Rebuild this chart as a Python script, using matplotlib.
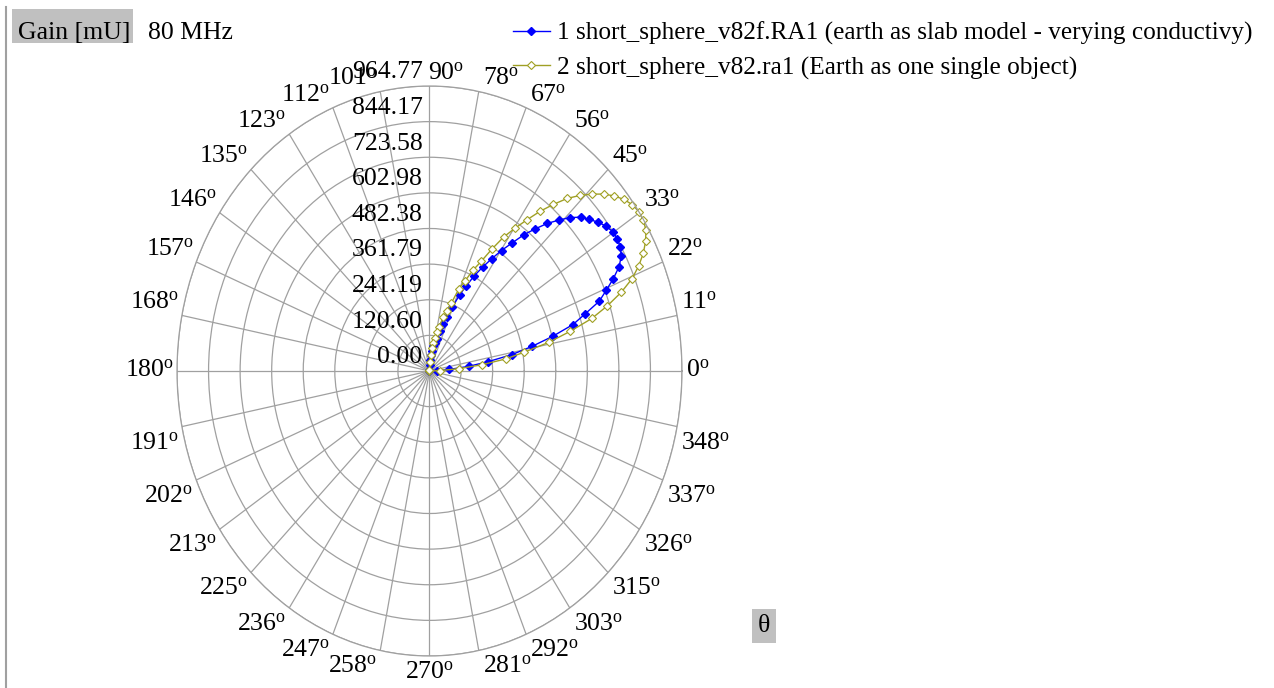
import numpy as np
import matplotlib
matplotlib.use("Agg")
import matplotlib.pyplot as plt
from matplotlib.patches import Rectangle
from matplotlib.lines import Line2D

plt.rcParams['font.family'] = ['Liberation Serif', 'DejaVu Serif']
plt.rcParams['mathtext.fontset'] = 'custom'
plt.rcParams['mathtext.rm'] = 'Liberation Serif'
plt.rcParams['mathtext.it'] = 'Liberation Serif:italic'

# elevation angle theta [deg]
theta_deg = [0, 2, 4, 6, 8, 10, 12, 14, 16, 18, 20, 22, 24, 26, 28, 30,
             32, 34, 36, 38, 40, 42, 44, 46, 48, 50, 52, 54, 56, 58, 60,
             62, 64, 66, 68, 70, 72, 74, 76, 78, 80, 82, 84, 86, 88, 90]

# gain [mU], earth as slab model
gain_slab = [0, 30, 75, 150, 225, 320, 400, 485, 570, 625, 690, 728, 769, 806, 830, 841,
             846, 844, 834, 818, 798, 778, 748, 710, 672, 628, 585, 535, 492, 448, 406,
             366, 321, 282, 232, 194, 167, 140, 113, 97, 85, 70, 55, 38, 20, 3]

# gain [mU], earth as one single object
gain_single = [0, 40, 112, 200, 295, 368, 465, 553, 645, 715, 780, 835, 875, 909, 935, 955,
               963, 964.77, 958, 943, 922, 895, 862, 826, 786, 736, 686, 632, 582, 535, 476,
               420, 380, 334, 300, 245, 212, 191, 155, 135, 115, 96, 78, 55, 30, 5]

r_max = 964.77
ring_labels = ['0.00', '120.60', '241.19', '361.79', '482.38', '602.98', '723.58', '844.17', '964.77']
angle_ticks = np.arange(0, 360, 11.25)

label_1 = '1 short_sphere_v82f.RA1 (earth as slab model - verying conductivy)'
label_2 = '2 short_sphere_v82.ra1 (Earth as one single object)'

fs = 18.5
grid_col = '#a0a0a0'
blue = '#0000ff'
olive = '#a0a024'

W, H = 1274, 688
fig = plt.figure(figsize=(W / 100, H / 100), dpi=100)
ax = fig.add_axes([177 / W, (H - 656) / H, 505 / W, 570 / H], projection='polar')
ax.set_aspect('auto')

rings = np.linspace(0, r_max, len(ring_labels))
ax.set_ylim(0, r_max)
ax.set_yticks(rings)
ax.set_yticklabels([])
ax.set_xticks(np.deg2rad(angle_ticks))
ax.set_xticklabels([])
ax.grid(True, color=grid_col, lw=0.9)
ax.spines['polar'].set_color(grid_col)
ax.spines['polar'].set_linewidth(0.9)
ax.tick_params(length=0)

th = np.deg2rad(theta_deg)
l1, = ax.plot(th, gain_slab, color=blue, lw=1, marker='D', ms=4.2,
              mfc=blue, mec=blue, clip_on=False)
l2, = ax.plot(th, gain_single, color=olive, lw=1, marker='D', ms=4.2,
              mfc='white', mec=olive, mew=0.8, clip_on=False)

# radial labels along the 90 deg line
for r, txt in zip(rings, ring_labels):
    ax.annotate(txt, xy=(np.pi / 2, r), xytext=(-5, 5.5), textcoords='offset points',
                ha='right', va='baseline', fontsize=fs, annotation_clip=False)

# angle labels round the outside
for a in angle_ticks:
    c, s = np.cos(np.deg2rad(a)), np.sin(np.deg2rad(a))
    if a == 90:
        ha, dx = 'left', -1
    elif abs(c) < 1e-9:
        ha, dx = 'center', 0
    elif c > 0:
        ha, dx = 'left', 3
    else:
        ha, dx = 'right', -2
    if abs(s) < 1e-9:
        va, dy = 'center', 0
    elif s > 0:
        va, dy = 'bottom', 1
    else:
        va, dy = 'top', -4
    ax.annotate(str(int(a)) + r'$^{\mathrm{o}}$', xy=(np.deg2rad(a), r_max),
                xytext=(dx, dy), textcoords='offset points', ha=ha, va=va,
                fontsize=fs, annotation_clip=False)

fig.legend([l1, l2], [label_1, label_2], loc='upper left',
           bbox_to_anchor=(513 / W, 1 - 22 / H), frameon=False, fontsize=18.2,
           handlelength=1.45, handletextpad=0.3, labelspacing=0.44,
           borderpad=0, borderaxespad=0, numpoints=1)

# header and axis-name boxes
fig.patches.append(Rectangle((12 / W, 1 - 43 / H), 121 / W, 34 / H,
                             transform=fig.transFigure, facecolor='#c0c0c0',
                             edgecolor='none', zorder=0))
fig.text(18 / W, 1 - 39 / H, 'Gain [mU]', fontsize=fs, va='baseline')
fig.text(148 / W, 1 - 39 / H, '80 MHz', fontsize=fs, va='baseline')

fig.patches.append(Rectangle((752 / W, 1 - 643 / H), 24 / W, 34 / H,
                             transform=fig.transFigure, facecolor='#c0c0c0',
                             edgecolor='none', zorder=0))
fig.text(764 / W, 1 - 626 / H, 'θ', fontsize=fs, ha='center', va='center')

fig.lines.append(Line2D([6.5 / W, 6.5 / W], [0, 1 - 7 / H], transform=fig.transFigure,
                        color=grid_col, lw=1.5))

fig.savefig('out.png', dpi=100)
